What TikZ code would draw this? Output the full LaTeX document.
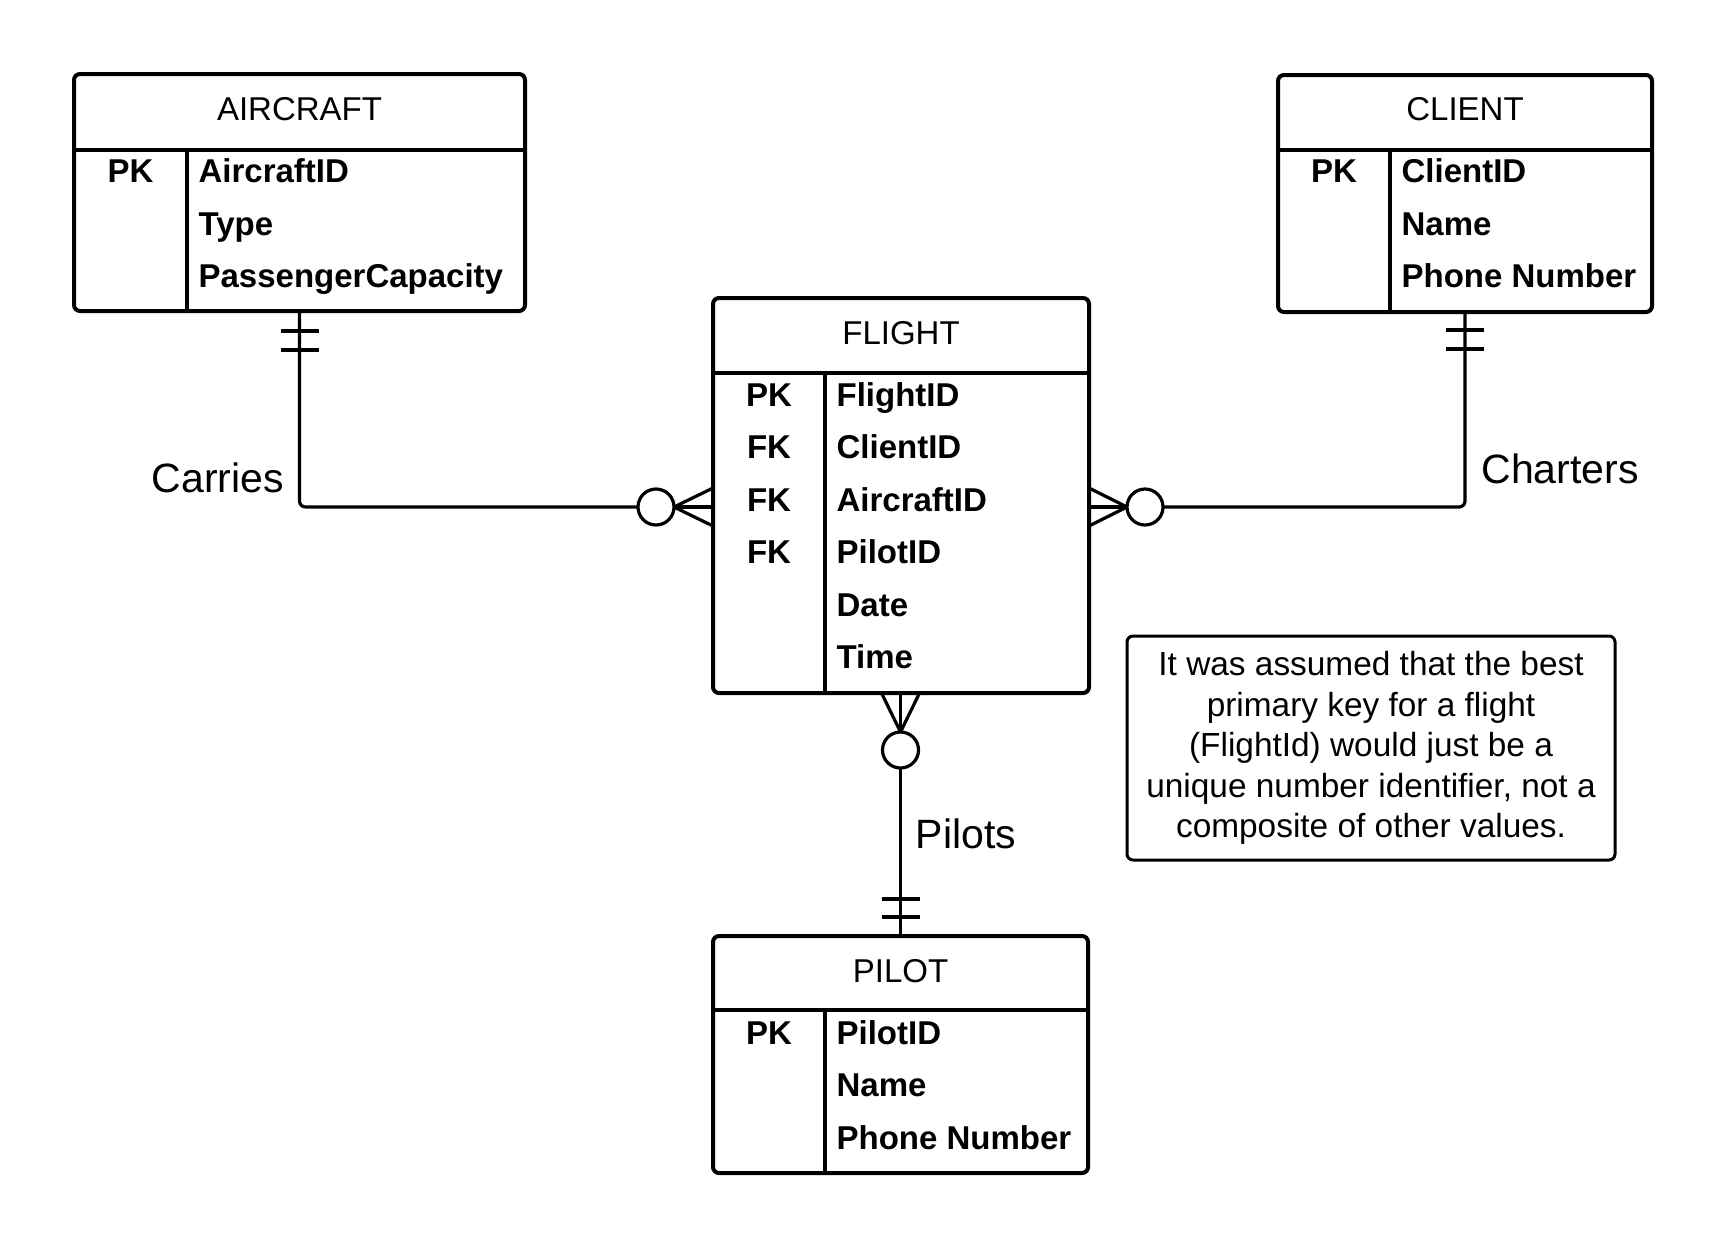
\documentclass[tikz,border=0pt]{standalone}
\usepackage{fontspec}
\setmainfont{Liberation Sans}
\usepackage{tikz}
\usetikzlibrary{calc}

\begin{document}
\begin{tikzpicture}[x=0.5pt,y=-0.5pt,line width=1.6pt]
\tikzstyle{entity}=[rectangle,draw=black,line width=2pt,rounded corners=3pt,inner sep=0pt,outer sep=0pt,anchor=north west]
\tikzstyle{title}=[anchor=base,inner sep=0pt,font=\fontsize{16.5pt}{19pt}\selectfont]
\tikzstyle{key}=[anchor=base,inner sep=0pt,font=\fontsize{16.5pt}{19pt}\selectfont\bfseries]
\tikzstyle{field}=[anchor=base west,inner sep=0pt,font=\fontsize{16.5pt}{19pt}\selectfont\bfseries]
\tikzstyle{rel}=[font=\fontsize{20.5pt}{24pt}\selectfont]
\tikzstyle{zero}=[circle,draw=black,fill=white,line width=1.6pt,minimum size=18pt,inner sep=0pt,outer sep=0pt]
\tikzstyle{note}=[rectangle,draw=black,line width=1.5pt,rounded corners=3pt,minimum width=244pt,minimum height=112pt,align=center,font=\fontsize{16.7pt}{20.2pt}\selectfont]
\useasboundingbox (0,0) rectangle (1727,1249);
% AIRCRAFT
\node[entity,minimum width=225.5pt,minimum height=118.5pt] (aircraft) at (74,74) {};
\draw[line width=2pt] (74,150) -- (525,150);
\draw (187,150) -- (187,311);
\node[title] (aircraftTitle) at (299.5,120) {AIRCRAFT};
\node[key] (aircraftPK) at (130.5,182) {PK};
\node[field] (aircraftID) at (197,182) {AircraftID};
\node[field] (aircraftType) at (197,235) {Type};
\node[field] (aircraftCap) at (197,287) {PassengerCapacity};
% CLIENT
\node[entity,minimum width=187pt,minimum height=118.5pt] (client) at (1278,75) {};
\draw[line width=2pt] (1278,150) -- (1652,150);
\draw (1390,150) -- (1390,312);
\node[title] (clientTitle) at (1465,120) {CLIENT};
\node[key] (clientPK) at (1334,182) {PK};
\node[field] (clientID) at (1400,182) {ClientID};
\node[field] (clientName) at (1400,235) {Name};
\node[field] (clientPhone) at (1400,287) {Phone Number};
% FLIGHT
\node[entity,minimum width=188pt,minimum height=197.5pt] (flight) at (713,298) {};
\draw[line width=2pt] (713,373) -- (1089,373);
\draw (825,373) -- (825,693);
\node[title] (flightTitle) at (901,344) {FLIGHT};
\node[key] (flightPK) at (769,406) {PK};
\node[key] (flightFK1) at (769,458) {FK};
\node[key] (flightFK2) at (769,511) {FK};
\node[key] (flightFK3) at (769,563) {FK};
\node[field] (flightID) at (835,406) {FlightID};
\node[field] (flightClient) at (835,458) {ClientID};
\node[field] (flightAircraft) at (835,511) {AircraftID};
\node[field] (flightPilot) at (835,563) {PilotID};
\node[field] (flightDate) at (835,616) {Date};
\node[field] (flightTime) at (835,668) {Time};
% PILOT
\node[entity,minimum width=187.5pt,minimum height=118.5pt] (pilot) at (713,936) {};
\draw[line width=2pt] (713,1010) -- (1088,1010);
\draw (825,1010) -- (825,1173);
\node[title] (pilotTitle) at (900.5,982) {PILOT};
\node[key] (pilotPK) at (769,1044) {PK};
\node[field] (pilotID) at (835,1044) {PilotID};
\node[field] (pilotName) at (835,1096) {Name};
\node[field] (pilotPhone) at (835,1149) {Phone Number};
% relationships
\coordinate (carriesEnd) at (713,507);
\coordinate (chartersEnd) at (1089,507);
\coordinate (pilotsEnd) at (900.5,693);
\node[zero] (carriesO) at (656,507) {};
\node[zero] (chartersO) at (1145,507) {};
\node[zero] (pilotsO) at (900.5,750) {};
\draw[rounded corners=3pt] (aircraft.south) |- (carriesO);
\draw[rounded corners=3pt] (client.south) |- (chartersO);
\draw (pilotsO) -- (pilot);
\draw (carriesO.east) -- ($(carriesEnd)+(0,-19)$);
\draw (carriesO.east) -- (carriesEnd);
\draw (carriesO.east) -- ($(carriesEnd)+(0,19)$);
\draw (chartersO.west) -- ($(chartersEnd)+(0,-19)$);
\draw (chartersO.west) -- (chartersEnd);
\draw (chartersO.west) -- ($(chartersEnd)+(0,19)$);
\draw (pilotsO.north) -- ($(pilotsEnd)+(-19,0)$);
\draw (pilotsO.north) -- (pilotsEnd);
\draw (pilotsO.north) -- ($(pilotsEnd)+(19,0)$);
\draw[line width=2pt] ($(aircraft.south)+(-19,20)$) -- ($(aircraft.south)+(19,20)$);
\draw[line width=2pt] ($(aircraft.south)+(-19,39)$) -- ($(aircraft.south)+(19,39)$);
\draw[line width=2pt] ($(client.south)+(-19,18)$) -- ($(client.south)+(19,18)$);
\draw[line width=2pt] ($(client.south)+(-19,37)$) -- ($(client.south)+(19,37)$);
\draw[line width=2pt] ($(pilot.north)+(-19,-19)$) -- ($(pilot.north)+(19,-19)$);
\draw[line width=2pt] ($(pilot.north)+(-19,-37)$) -- ($(pilot.north)+(19,-37)$);
\node[rel] (carries) at (218,478) {Carries};
\node[rel] (charters) at (1560,469) {Charters};
\node[rel] (pilots) at (966,834) {Pilots};
% note
\node[note] (assumption) at (1371,748) {It was assumed that the best\\primary key for a flight\\(FlightId) would just be a\\unique number identifier, not a\\composite of other values.};
\end{tikzpicture}
\end{document}
